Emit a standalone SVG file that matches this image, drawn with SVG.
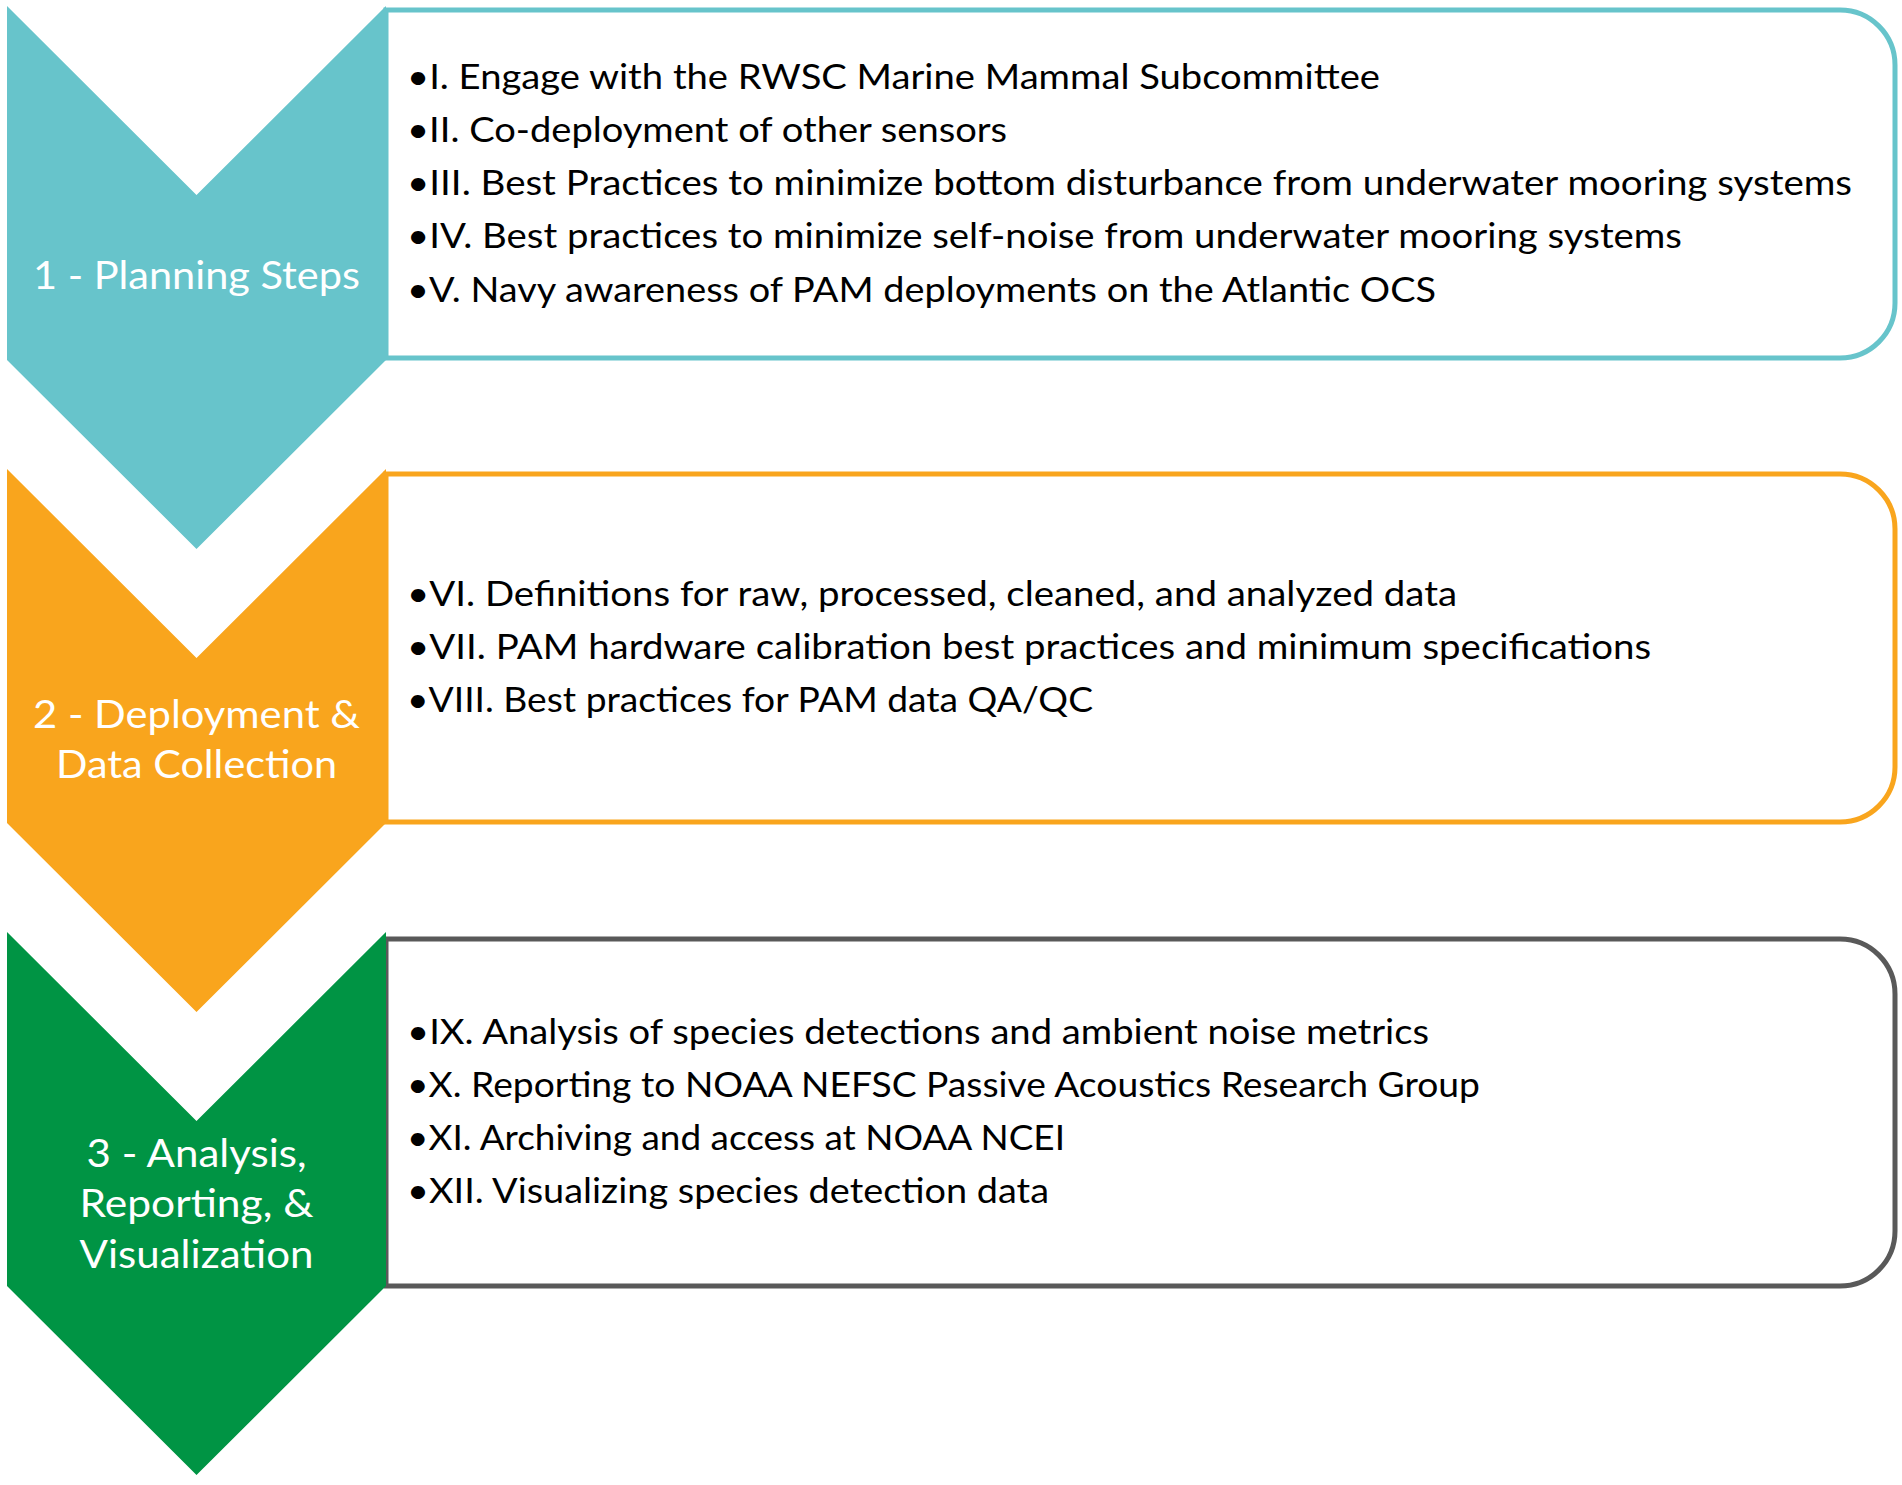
<svg xmlns="http://www.w3.org/2000/svg" width="1902" height="1485" viewBox="0 0 1902 1485">
<style>
.box{fill:#ffffff;stroke-width:5}
.item{font-family:Lato,"Open Sans","Liberation Sans",sans-serif;font-size:34px;fill:#000000}
.lbl{font-family:Lato,"Open Sans","Liberation Sans",sans-serif;font-size:38px;fill:#ffffff;text-anchor:middle}
</style>
<rect width="1902" height="1485" fill="#ffffff"/>
<g id="connectors"></g>
<g id="step1">
<path class="box" stroke="#67C4CB" d="M386,10 H1840 A55,55 0 0 1 1895,65 V303 A55,55 0 0 1 1840,358 H386 Z"/>
<polygon fill="#67C4CB" points="7,6 196.5,195 386,6 386,360 196.5,549 7,360"/>
<text class="lbl" x="196.5" y="289" textLength="327" lengthAdjust="spacingAndGlyphs">1 - Planning Steps</text>
<text class="item" x="407" y="89" textLength="973" lengthAdjust="spacingAndGlyphs">•I. Engage with the RWSC Marine Mammal Subcommittee</text>
<text class="item" x="407" y="142" textLength="600" lengthAdjust="spacingAndGlyphs">•II. Co-deployment of other sensors</text>
<text class="item" x="407" y="195" textLength="1445" lengthAdjust="spacingAndGlyphs">•III. Best Practices to minimize bottom disturbance from underwater mooring systems</text>
<text class="item" x="407" y="248" textLength="1275" lengthAdjust="spacingAndGlyphs">•IV. Best practices to minimize self-noise from underwater mooring systems</text>
<text class="item" x="407" y="302" textLength="1029" lengthAdjust="spacingAndGlyphs">•V. Navy awareness of PAM deployments on the Atlantic OCS</text>
</g>
<g id="step2">
<path class="box" stroke="#F9A51D" d="M386,474 H1840 A55,55 0 0 1 1895,529 V767 A55,55 0 0 1 1840,822 H386 Z"/>
<polygon fill="#F9A51D" points="7,469 196.5,658 386,469 386,823 196.5,1012 7,823"/>
<text class="lbl" x="196.5" y="728" textLength="327" lengthAdjust="spacingAndGlyphs">2 - Deployment &amp;</text>
<text class="lbl" x="196.5" y="778" textLength="281" lengthAdjust="spacingAndGlyphs">Data Collection</text>
<text class="item" x="407" y="606" textLength="1050" lengthAdjust="spacingAndGlyphs">•VI. Definitions for raw, processed, cleaned, and analyzed data</text>
<text class="item" x="407" y="659" textLength="1244" lengthAdjust="spacingAndGlyphs">•VII. PAM hardware calibration best practices and minimum specifications</text>
<text class="item" x="407" y="712" textLength="686" lengthAdjust="spacingAndGlyphs">•VIII. Best practices for PAM data QA/QC</text>
</g>
<g id="step3">
<path class="box" stroke="#595959" d="M386,939 H1840 A55,55 0 0 1 1895,994 V1231 A55,55 0 0 1 1840,1286 H386 Z"/>
<polygon fill="#009444" points="7,932 196.5,1121 386,932 386,1286 196.5,1475 7,1286"/>
<text class="lbl" x="196.5" y="1167" textLength="220" lengthAdjust="spacingAndGlyphs">3 - Analysis,</text>
<text class="lbl" x="196.5" y="1217" textLength="234" lengthAdjust="spacingAndGlyphs">Reporting, &amp;</text>
<text class="lbl" x="196.5" y="1268" textLength="234" lengthAdjust="spacingAndGlyphs">Visualization</text>
<text class="item" x="407" y="1044" textLength="1022" lengthAdjust="spacingAndGlyphs">•IX. Analysis of species detections and ambient noise metrics</text>
<text class="item" x="407" y="1097" textLength="1073" lengthAdjust="spacingAndGlyphs">•X. Reporting to NOAA NEFSC Passive Acoustics Research Group</text>
<text class="item" x="407" y="1150" textLength="658" lengthAdjust="spacingAndGlyphs">•XI. Archiving and access at NOAA NCEI</text>
<text class="item" x="407" y="1203" textLength="642" lengthAdjust="spacingAndGlyphs">•XII. Visualizing species detection data</text>
</g>
</svg>
